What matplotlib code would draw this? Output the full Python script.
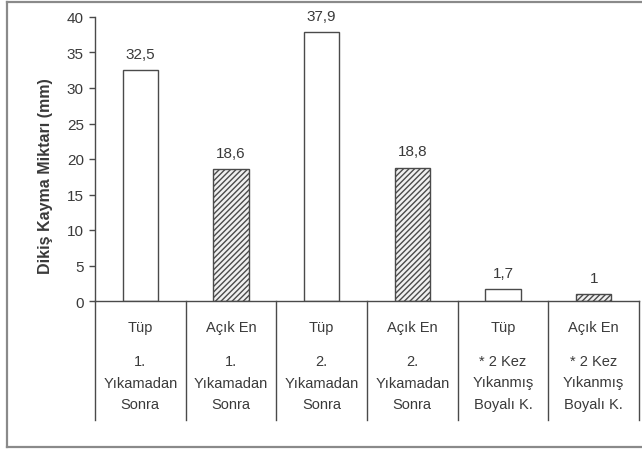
import matplotlib
matplotlib.use("Agg")
import matplotlib.pyplot as plt
import matplotlib.transforms as mtransforms
from matplotlib.lines import Line2D

# Veriler
tipler = ["Tüp", "Açık En", "Tüp", "Açık En", "Tüp", "Açık En"]
kosullar = [
    ["1.", "Yıkamadan", "Sonra"],
    ["1.", "Yıkamadan", "Sonra"],
    ["2.", "Yıkamadan", "Sonra"],
    ["2.", "Yıkamadan", "Sonra"],
    ["* 2 Kez", "Yıkanmış", "Boyalı K."],
    ["* 2 Kez", "Yıkanmış", "Boyalı K."],
]
degerler = [32.5, 18.6, 37.9, 18.8, 1.7, 1.0]
etiketler = ["32,5", "18,6", "37,9", "18,8", "1,7", "1"]
y_ticks = [0, 5, 10, 15, 20, 25, 30, 35, 40]

plt.rcParams["font.family"] = ["Liberation Sans", "DejaVu Sans"]
plt.rcParams["hatch.linewidth"] = 1.0

renk_yazi = "#3a3a3a"
renk_cizgi = "#4a4a4a"

W, H = 642, 452
fig = plt.figure(figsize=(W / 100, H / 100), dpi=100)

# Dış çerçeve (sağ kenarı görüntünün dışında kalıyor)
def fx(p):
    return p / W

def fy(p):
    return 1 - p / H

for xs, ys in [([7, 645], [3, 3]), ([7, 645], [448, 448]), ([7, 7], [3, 448])]:
    fig.add_artist(Line2D([fx(v) for v in xs], [fy(v) for v in ys],
                          transform=fig.transFigure, color="#8a8a8a", linewidth=1.6))

ax = fig.add_axes([fx(95), fy(302), (639 - 95) / W, (302 - 18) / H])

x = list(range(len(degerler)))
for i, v in enumerate(degerler):
    if i % 2 == 0:
        ax.bar(i, v, width=0.39, color="white", edgecolor=renk_cizgi, linewidth=1.0)
    else:
        ax.bar(i, v, width=0.39, color="#f0f0f0", edgecolor=renk_cizgi,
               hatch="//////", linewidth=1.0)
    ax.annotate(etiketler[i], (i, v), xytext=(0, 6.5), textcoords="offset points",
                ha="center", va="bottom", fontsize=11, color=renk_yazi)

ax.set_xlim(-0.5, len(degerler) - 0.5)
ax.set_ylim(0, 40)
ax.set_yticks(y_ticks)
ax.tick_params(axis="y", direction="out", length=4, width=1, colors=renk_cizgi,
               labelsize=11, labelcolor=renk_yazi, pad=4)
ax.set_xticks([])
for s in ["top", "right"]:
    ax.spines[s].set_visible(False)
for s in ["left", "bottom"]:
    ax.spines[s].set_color(renk_cizgi)
    ax.spines[s].set_linewidth(1.0)

# Kategori ekseni: ayırıcı çizgiler ve etiketler
trans = mtransforms.blended_transform_factory(ax.transData, ax.transAxes)
px = 1 / (302 - 18)
alt = -(421 - 302) * px
for b in range(len(degerler) + 1):
    ax.plot([b - 0.5, b - 0.5], [0, alt], transform=trans, color=renk_cizgi,
            linewidth=1.0, clip_on=False)

for i in x:
    ax.text(i, -(328 - 302) * px, tipler[i], transform=trans, ha="center",
            va="center", fontsize=10.5, color=renk_yazi)
    for j, satir in enumerate(kosullar[i]):
        ax.text(i, -(362 + 21.5 * j - 302) * px, satir, transform=trans,
                ha="center", va="center", fontsize=10.5, color=renk_yazi)

fig.text(fx(46), fy(176), "Dikiş Kayma Miktarı (mm)", rotation=90,
         ha="center", va="center", fontsize=11.5, fontweight="bold", color=renk_yazi)

fig.savefig("out.png", dpi=100)
